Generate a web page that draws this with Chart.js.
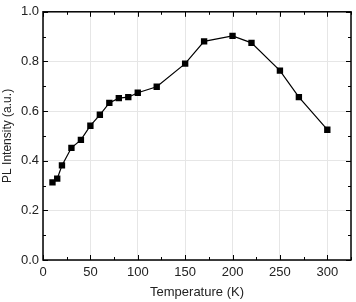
<!DOCTYPE html>
<html>
<head>
<meta charset="utf-8">
<script src="https://cdn.jsdelivr.net/npm/chart.js@4/dist/chart.umd.min.js"></script>
<style>
  html, body { margin: 0; padding: 0; background: #fff; }
  #wrap { width: 356px; height: 302px; }
</style>
</head>
<body>
<div id="wrap"><canvas id="myChart" width="356" height="302"></canvas></div>
<script>
// data
const temperature = [10, 15, 20, 30, 40, 50, 60, 70, 80, 90, 100, 120, 150, 170, 200, 220, 250, 270, 300];
const intensity = [0.313, 0.328, 0.381, 0.452, 0.484, 0.541, 0.585, 0.633, 0.652, 0.656, 0.674, 0.698, 0.791, 0.881, 0.903, 0.875, 0.763, 0.656, 0.525];

const xTitle = 'Temperature (K)';
const yTitle = 'PL Intensity (a.u.)';

// box round the plot plus inward tick marks on all four sides
const frame = {
    id: 'frame',
    afterDraw(chart) {
        const {ctx, chartArea: a, scales: {x, y}} = chart;
        ctx.save();
        ctx.strokeStyle = '#000';
        ctx.lineWidth = 1;
        x.ticks.forEach(t => {
            const px = Math.round(x.getPixelForValue(t.value)) + 0.5;
            const len = t.value % 50 === 0 ? 5 : 3;
            ctx.beginPath();
            ctx.moveTo(px, a.bottom); ctx.lineTo(px, a.bottom - len);
            ctx.moveTo(px, a.top); ctx.lineTo(px, a.top + len);
            ctx.stroke();
        });
        y.ticks.forEach(t => {
            const py = Math.round(y.getPixelForValue(t.value)) + 0.5;
            const len = Math.round(t.value * 10) % 2 === 0 ? 5 : 3;
            ctx.beginPath();
            ctx.moveTo(a.left, py); ctx.lineTo(a.left + len, py);
            ctx.moveTo(a.right, py); ctx.lineTo(a.right - len, py);
            ctx.stroke();
        });
        ctx.lineWidth = 1.5;
        ctx.strokeRect(a.left, a.top, a.right - a.left, a.bottom - a.top);
        ctx.restore();
    }
};

const ctx = document.getElementById('myChart').getContext('2d');
new Chart(ctx, {
    type: 'scatter',
    data: {
        datasets: [{
            data: temperature.map((t, i) => ({x: t, y: intensity[i]})),
            showLine: true,
            borderColor: '#000',
            backgroundColor: '#000',
            borderWidth: 1.2,
            pointStyle: 'rect',
            pointRadius: 4.5,
            pointBorderWidth: 0,
            tension: 0
        }]
    },
    options: {
        responsive: false,
        animation: false,
        layout: {padding: {top: 6, right: 3, left: 0, bottom: 0}},
        plugins: {
            legend: {display: false},
            tooltip: {enabled: false}
        },
        scales: {
            x: {
                type: 'linear',
                min: 0,
                max: 325,
                ticks: {
                    stepSize: 25,
                    autoSkip: false,
                    maxRotation: 0,
                    color: '#222',
                    padding: 5,
                    font: {family: 'Liberation Sans', size: 13},
                    callback: v => v % 50 === 0 ? v : ''
                },
                grid: {
                    drawTicks: false,
                    color: c => c.tick && c.tick.value % 50 === 0 ? '#e6e6e6' : 'rgba(0,0,0,0)'
                },
                border: {display: false},
                title: {
                    display: true,
                    text: xTitle,
                    color: '#222',
                    padding: {top: 4, bottom: 2},
                    font: {family: 'Liberation Sans', size: 13}
                },
                afterFit: s => { s.height = 42; }
            },
            y: {
                min: 0,
                max: 1,
                ticks: {
                    stepSize: 0.1,
                    autoSkip: false,
                    color: '#222',
                    padding: 4,
                    font: {family: 'Liberation Sans', size: 13},
                    callback: v => Math.round(v * 10) % 2 === 0 ? v.toFixed(1) : ''
                },
                grid: {
                    drawTicks: false,
                    color: c => c.tick && Math.round(c.tick.value * 10) % 2 === 0 ? '#e6e6e6' : 'rgba(0,0,0,0)'
                },
                border: {display: false},
                title: {
                    display: true,
                    text: yTitle,
                    color: '#222',
                    padding: {top: 0, bottom: 2},
                    font: {family: 'Liberation Sans', size: 12}
                },
                afterFit: s => { s.width = 43; }
            }
        }
    },
    plugins: [frame]
});
</script>
</body>
</html>
